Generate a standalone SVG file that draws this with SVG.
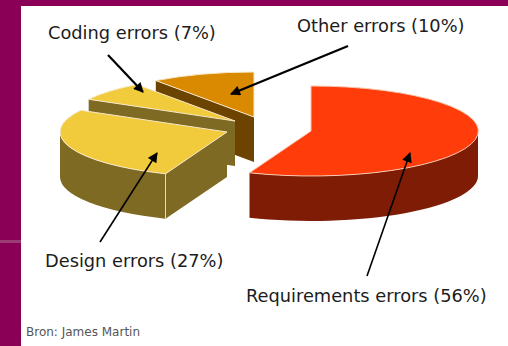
<svg xmlns="http://www.w3.org/2000/svg" width="508" height="346" viewBox="0 0 508 346">
<defs>
<style>
.lbl{font-family:"DejaVu Sans","Verdana",sans-serif;font-size:17.8px;fill:#1c1c1c}
.src{font-family:"DejaVu Sans","Verdana",sans-serif;font-size:12px;fill:#555}
.top{stroke:#f6e8c8;stroke-width:1;stroke-linejoin:round}
.arr{stroke:#000;fill:none;marker-end:url(#ah)}
</style>
<marker id="ah" viewBox="0 0 10 10" refX="9" refY="5" markerWidth="11" markerHeight="10" orient="auto" markerUnits="userSpaceOnUse">
<path d="M0,0 L10,5 L0,10 Z" fill="#000"/>
</marker>
</defs>
<rect x="0" y="0" width="508" height="346" fill="#8a0057"/>
<rect x="0" y="240" width="21" height="3" fill="#9c3c76"/>
<rect x="21" y="6" width="487" height="340" fill="#ffffff"/>

<g id="other">
<path d="M254,117 L155.8,80.6 L155.8,125.6 L254,162 Z" fill="#6d4300"/>
<path class="top" d="M254,117 L155.8,80.6 A167,45 0 0 1 254,72 Z" fill="#da8a00"/>
</g>
<g id="coding">
<path d="M235,121 L88.7,99.3 L88.7,145.3 L235,166 Z" fill="#7e6a22"/>
<path class="top" d="M235,121 L88.7,99.3 A167,45 0 0 1 136.8,84.6 Z" fill="#f2cb3c"/>
</g>
<g id="design">
<path d="M60,132 A167,45 0 0 0 165.5,173.8 L165.5,218.8 A167,45 0 0 1 60,177 Z" fill="#7e6a22"/>
<path d="M227,132 L165.5,173.8 L165.5,218.8 L227,177 Z" fill="#7e6a22"/>
<line x1="165.5" y1="174" x2="165.5" y2="218.5" stroke="#e8dcb0" stroke-width="1"/>
<path class="top" d="M227,132 L80.7,110.3 A167,45 0 0 0 165.5,173.8 Z" fill="#f2cb3c"/>
</g>
<g id="requirements">
<path d="M478,131 A167,45 0 0 1 249.5,172.8 L249.5,217.8 A167,45 0 0 0 478,176 Z" fill="#7f1c06"/>
<path class="top" d="M311,131 L311,86 A167,45 0 1 1 249.5,172.8 Z" fill="#ff3c0a" style="stroke:#f8c8b0"/>
</g>

<g id="connectors">
<line class="arr" x1="108" y1="55" x2="143" y2="92" stroke-width="2.2"/>
<line class="arr" x1="348" y1="46" x2="231" y2="94" stroke-width="2.2"/>
<line class="arr" x1="100" y1="242" x2="157" y2="153" stroke-width="1.6"/>
<line class="arr" x1="367" y1="276" x2="410" y2="153" stroke-width="1.6"/>
</g>

<g id="labels">
<text class="lbl" x="48" y="39">Coding errors (7%)</text>
<text class="lbl" x="297" y="32">Other errors (10%)</text>
<text class="lbl" x="45" y="267">Design errors (27%)</text>
<text class="lbl" x="246" y="302">Requirements errors (56%)</text>
<text class="src" x="26" y="336">Bron: James Martin</text>
</g>
</svg>
